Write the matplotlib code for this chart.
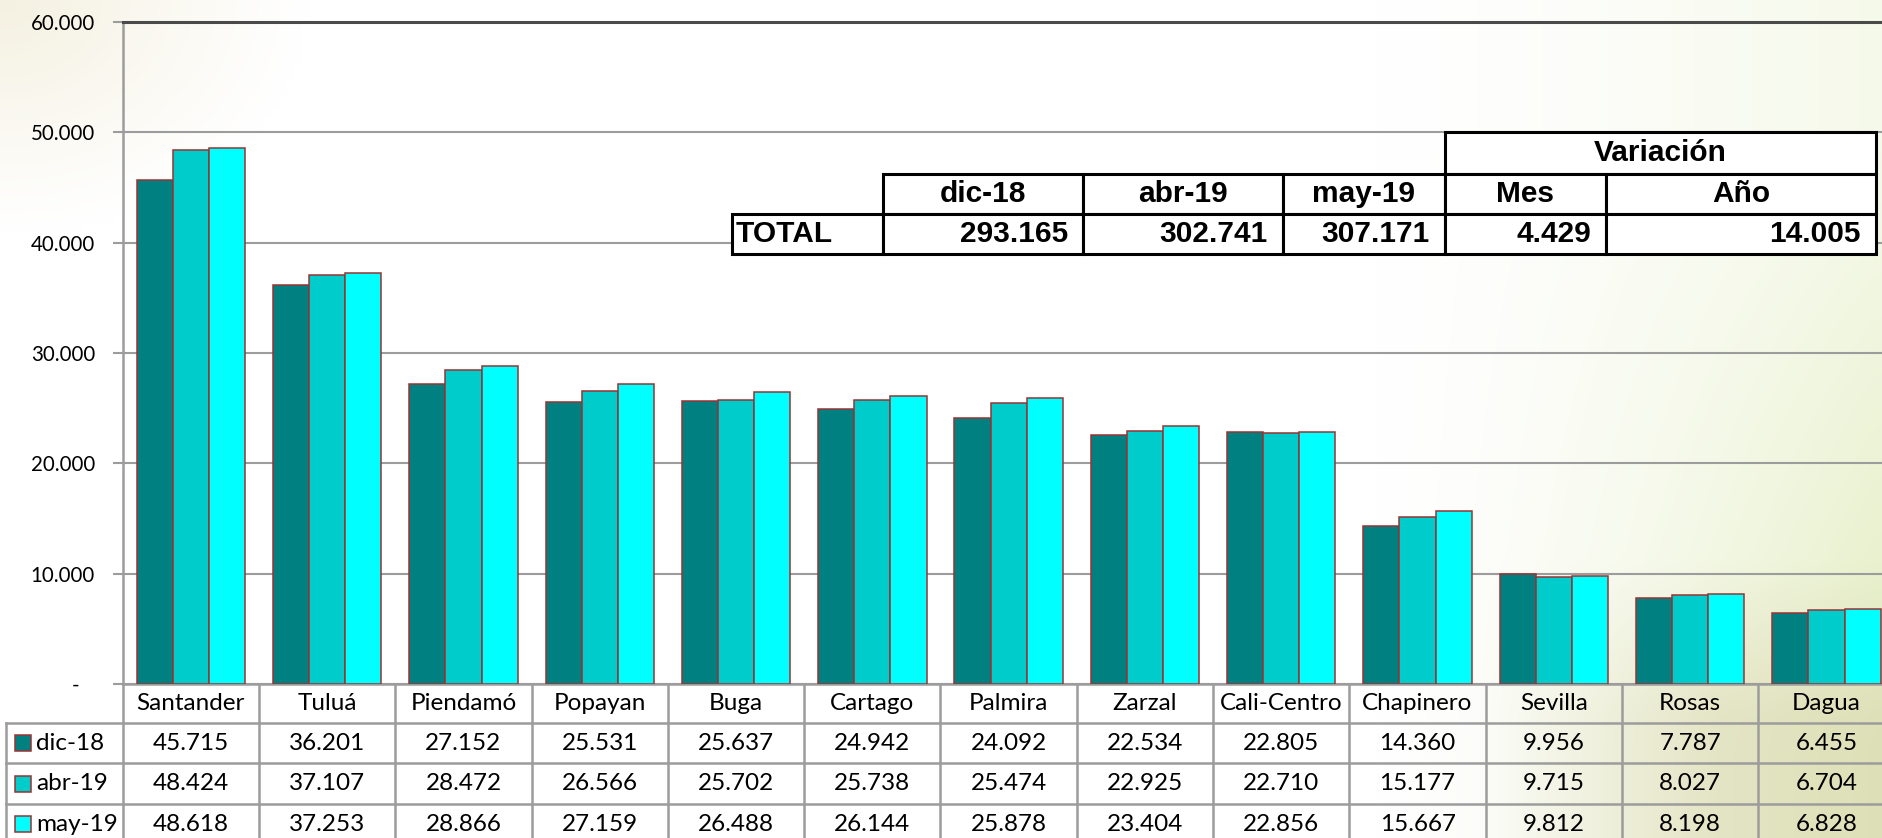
import numpy as np
import matplotlib.pyplot as plt
from matplotlib.patches import Rectangle

# data
cities = ['Santander', 'Tuluá', 'Piendamó', 'Popayan', 'Buga', 'Cartago', 'Palmira',
          'Zarzal', 'Cali-Centro', 'Chapinero', 'Sevilla', 'Rosas', 'Dagua']
dic18 = [45715, 36201, 27152, 25531, 25637, 24942, 24092, 22534, 22805, 14360, 9956, 7787, 6455]
abr19 = [48424, 37107, 28472, 26566, 25702, 25738, 25474, 22925, 22710, 15177, 9715, 8027, 6704]
may19 = [48618, 37253, 28866, 27159, 26488, 26144, 25878, 23404, 22856, 15667, 9812, 8198, 6828]
series_names = ['dic-18', 'abr-19', 'may-19']
colors = ['#008080', '#00CCCC', '#00FFFF']

total_cols = ['dic-18', 'abr-19', 'may-19', 'Mes', 'Año']
total_vals = [293165, 302741, 307171, 4429, 14005]
yticks = [0, 10000, 20000, 30000, 40000, 50000, 60000]


def fmt(v):
    return f'{v:,}'.replace(',', '.')


# layout (pixels)
W, H = 1883, 838
AX_LEFT, CAT_W, AX_BOTTOM, AX_TOP = 122.7, 136.3, 684, 22
EDGE = '#993333'
GRID = '#9c9c9c'
FONT = 'Lato'
FS = 17.5

fig = plt.figure(figsize=(W / 100, H / 100), dpi=100)

# faded background (green-ish tint at the right, beige at top-left)
gx, gy = np.meshgrid(np.linspace(0, W, 240), np.linspace(0, H, 110))
img = np.ones((110, 240, 3))
t_right = np.clip((gx - 1380) / 500, 0, 1) ** 1.4 * (0.35 + 0.65 * np.clip((gy - 150) / 600, 0, 1))
green = np.array([228, 238, 195]) / 255
img = img * (1 - t_right[..., None]) + green * t_right[..., None]
t_warm = np.clip((gx - 1480) / 250, 0, 1) * np.clip((gy - 560) / 160, 0, 1) * 0.45
warm = np.array([214, 208, 168]) / 255
img = img * (1 - t_warm[..., None]) + warm * t_warm[..., None]
t_tl = np.clip(1 - np.sqrt((gx / 300) ** 2 + (gy / 230) ** 2), 0, 1) * 0.8
beige = np.array([242, 238, 218]) / 255
img = img * (1 - t_tl[..., None]) + beige * t_tl[..., None]
bg = fig.add_axes([0, 0, 1, 1], zorder=-10)
bg.imshow(img, extent=[0, W, H, 0], aspect='auto', interpolation='bilinear')
bg.axis('off')

# main chart
n = len(cities)
ax = fig.add_axes([AX_LEFT / W, (H - AX_BOTTOM) / H, n * CAT_W / W, (AX_BOTTOM - AX_TOP) / H])
ax.set_facecolor('none')
x = np.arange(n)
bw = 0.265
for k, (vals, c) in enumerate(zip([dic18, abr19, may19], colors)):
    ax.bar(x + (k - 1) * bw, vals, bw, color=c, edgecolor=EDGE, linewidth=1.1, zorder=3)

ax.set_xlim(-0.5, n - 0.5)
ax.set_ylim(0, 60000)
ax.set_yticks(yticks)
ax.set_yticklabels(['-   '] + [fmt(v) for v in yticks[1:]], fontsize=14.8, family=FONT)
ax.yaxis.grid(True, color=GRID, lw=1.5)
ax.set_axisbelow(True)
ax.spines['top'].set_color('#4a4a4a')
ax.spines['top'].set_linewidth(2.2)
ax.spines['right'].set_visible(False)
for s in ['left', 'bottom']:
    ax.spines[s].set_color(GRID)
    ax.spines[s].set_linewidth(1.8)
ax.tick_params(axis='y', length=7, width=1.5, color=GRID, pad=13)
ax.tick_params(axis='x', length=0, labelbottom=False)

# data table below the chart
tab = fig.add_axes([AX_LEFT / W, 0, n * CAT_W / W, (H - AX_BOTTOM) / H])
tab.set_xlim(-0.5, n - 0.5)
tab.set_ylim(H - AX_BOTTOM, 0)
tab.axis('off')


def px2x(px):
    return -0.5 + (px - AX_LEFT) / CAT_W


rows = [0, 39, 79, 120, 160]
xl = px2x(6)
for i in range(n + 1):
    tab.plot([i - 0.5] * 2, [0, rows[-1]], color=GRID, lw=1.8, clip_on=False)
tab.plot([xl, xl], [rows[1], rows[-1]], color=GRID, lw=1.8, clip_on=False)
for r in rows[1:4]:
    tab.plot([xl, n - 0.5], [r, r], color=GRID, lw=1.8, clip_on=False)

for i, city in enumerate(cities):
    tab.text(i, (rows[0] + rows[1]) / 2, city, ha='center', va='center', fontsize=FS, family=FONT)
for k, vals in enumerate([dic18, abr19, may19]):
    yc = (rows[k + 1] + rows[k + 2]) / 2
    for i, v in enumerate(vals):
        tab.text(i, yc, fmt(v), ha='center', va='center', fontsize=FS, family=FONT, clip_on=False)
    tab.add_patch(Rectangle((px2x(15), yc - 8), 16 / CAT_W, 16, facecolor=colors[k],
                            edgecolor=EDGE, lw=1.1, clip_on=False))
    tab.text(px2x(36), yc, series_names[k], ha='left', va='center', fontsize=FS,
             family=FONT, clip_on=False)

# TOTAL summary box
ov = fig.add_axes([0, 0, 1, 1], zorder=5)
ov.set_xlim(0, W)
ov.set_ylim(H, 0)
ov.axis('off')
col_x = [732, 883, 1083, 1283, 1445, 1606, 1876]
row_y = [132, 174, 214, 254]
box = dict(facecolor='white', edgecolor='black', lw=2.2)
tfont = dict(family='Liberation Sans', weight='bold', fontsize=21.5)

ov.add_patch(Rectangle((col_x[4], row_y[0]), col_x[6] - col_x[4], row_y[1] - row_y[0], **box))
ov.text((col_x[4] + col_x[6]) / 2, (row_y[0] + row_y[1]) / 2, 'Variación',
        ha='center', va='center', **tfont)
for j, name in enumerate(total_cols):
    x0, x1 = col_x[j + 1], col_x[j + 2]
    ov.add_patch(Rectangle((x0, row_y[1]), x1 - x0, row_y[2] - row_y[1], **box))
    ov.text((x0 + x1) / 2, (row_y[1] + row_y[2]) / 2, name, ha='center', va='center', **tfont)
ov.add_patch(Rectangle((col_x[0], row_y[2]), col_x[1] - col_x[0], row_y[3] - row_y[2], **box))
ov.text(col_x[0] + 4, (row_y[2] + row_y[3]) / 2, 'TOTAL', ha='left', va='center', **tfont)
for j, v in enumerate(total_vals):
    x0, x1 = col_x[j + 1], col_x[j + 2]
    ov.add_patch(Rectangle((x0, row_y[2]), x1 - x0, row_y[3] - row_y[2], **box))
    ov.text(x1 - 15, (row_y[2] + row_y[3]) / 2, fmt(v), ha='right', va='center', **tfont)

fig.savefig('out.png', dpi=100)
